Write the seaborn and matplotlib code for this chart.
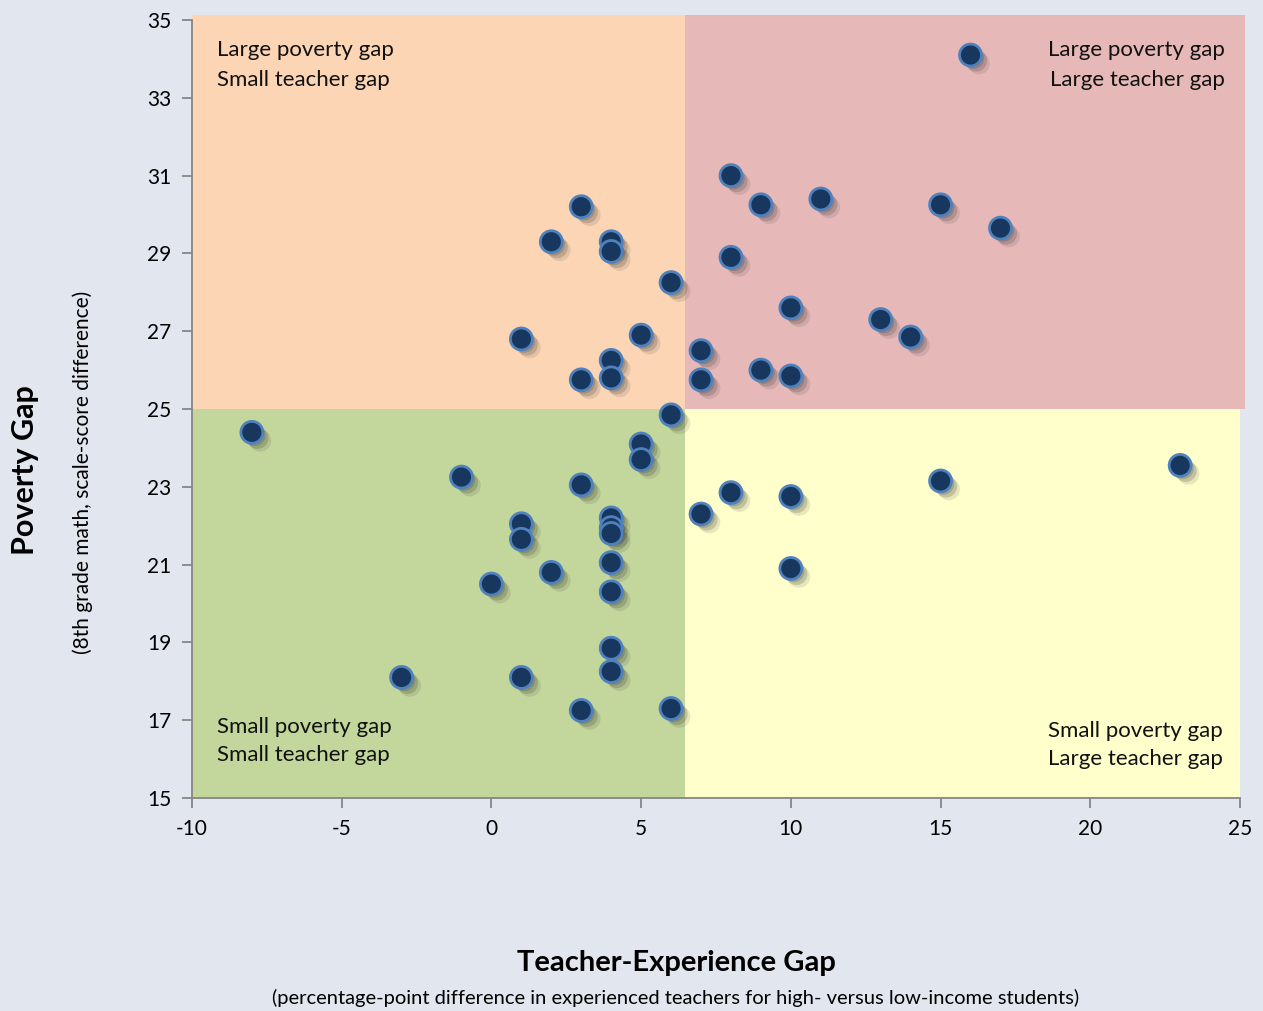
import matplotlib
matplotlib.use("Agg")
import matplotlib.pyplot as plt
import matplotlib.patheffects as pe
import seaborn as sns
import pandas as pd

# teacher-experience gap (x) and poverty gap (y), one point per state
teacher_gap = [16, 8, 3, 9, 11, 15, 17, 2, 4, 4, 8, 6, 10, 13, 14, 1, 5, 4, 7, 3, 4, 9, 7, 10, 6,
               -8, 5, 5, -1, 3, 23, 15, 8, 10, 7, 1, 1, 4, 4, 4, 4, 10, 2, 0, 4, 4, 4, -3, 1, 3, 6]
poverty_gap = [34.1, 31.0, 30.2, 30.25, 30.4, 30.25, 29.65, 29.3, 29.3, 29.05, 28.9, 28.25, 27.6,
               27.3, 26.85, 26.8, 26.9, 26.25, 26.5, 25.75, 25.8, 26.0, 25.75, 25.85, 24.85,
               24.4, 24.1, 23.7, 23.25, 23.05, 23.55, 23.15, 22.85, 22.75, 22.3, 22.05, 21.65,
               22.2, 21.95, 21.8, 21.05, 20.9, 20.8, 20.5, 20.3, 18.85, 18.25, 18.1, 18.1, 17.25, 17.3]

x_split = 6.45
y_split = 25
quadrant_colors = {"tl": "#FCD5B5", "tr": "#E6B9B8", "bl": "#C3D69B", "br": "#FFFFCC"}
bg = "#E1E6EF"

df = pd.DataFrame({"teacher": teacher_gap, "poverty": poverty_gap})

sns.set_style("white")
plt.rcParams["font.family"] = ["Lato", "DejaVu Sans"]
plt.rcParams["axes.unicode_minus"] = False
plt.rcParams["text.color"] = "black"

fig = plt.figure(figsize=(12.63, 10.11), dpi=100, facecolor=bg)
ax = fig.add_axes([0.152, 0.2107, 0.8298, 0.7695])
ax.set_facecolor(bg)
ax.set_xlim(-10, 25)
ax.set_ylim(15, 35)

# quadrant backgrounds
ax.fill_between([-10, x_split], y_split, 35.12, color=quadrant_colors["tl"], lw=0, clip_on=False, zorder=0)
ax.fill_between([x_split, 25.15], y_split, 35.12, color=quadrant_colors["tr"], lw=0, clip_on=False, zorder=0)
ax.fill_between([-10, x_split], 15, y_split, color=quadrant_colors["bl"], lw=0, zorder=0)
ax.fill_between([x_split, 25], 15, y_split, color=quadrant_colors["br"], lw=0, zorder=0)

sns.scatterplot(data=df, x="teacher", y="poverty", ax=ax, s=250, color="#17375E",
                edgecolor="#4F81BD", linewidth=2.0, zorder=3)
# soft drop shadow, built up from a few offset layers
ax.collections[-1].set_path_effects([
    pe.SimplePatchShadow(offset=(2, -2), shadow_rgbFace="#333333", alpha=0.2),
    pe.SimplePatchShadow(offset=(4, -4), shadow_rgbFace="#333333", alpha=0.2),
    pe.SimplePatchShadow(offset=(6, -6), shadow_rgbFace="#333333", alpha=0.12),
    pe.Normal()])

ax.set_xticks(range(-10, 26, 5))
ax.set_yticks(range(15, 36, 2))
for s in ["top", "right"]:
    ax.spines[s].set_visible(False)
for s in ["left", "bottom"]:
    ax.spines[s].set_color("#868686")
    ax.spines[s].set_linewidth(1.3)
ax.tick_params(axis="both", direction="out", length=7, width=1.3, color="#868686",
               labelsize=15, labelcolor="black", pad=8, left=True, bottom=True)
ax.set_xlabel("")
ax.set_ylabel("")

# quadrant labels
qfont = dict(fontsize=16, color="#111111", va="center", zorder=4)
ax.text(-9.17, 34.23, "Large poverty gap", ha="left", **qfont)
ax.text(-9.17, 33.46, "Small teacher gap", ha="left", **qfont)
ax.text(24.5, 34.23, "Large poverty gap", ha="right", **qfont)
ax.text(24.5, 33.46, "Large teacher gap", ha="right", **qfont)
ax.text(-9.17, 16.83, "Small poverty gap", ha="left", **qfont)
ax.text(-9.17, 16.1, "Small teacher gap", ha="left", **qfont)
ax.text(24.43, 16.72, "Small poverty gap", ha="right", **qfont)
ax.text(24.43, 16.0, "Large teacher gap", ha="right", **qfont)

# axis titles
fig.text(25 / 1263, 1 - 470 / 1011, "Poverty Gap", rotation=90, ha="center", va="center",
         fontsize=22, fontweight="bold", color="black")
fig.text(83 / 1263, 1 - 472 / 1011, "(8th grade math, scale-score difference)", rotation=90,
         ha="center", va="center", fontsize=15, color="black")
fig.text(676 / 1263, 1 - 963 / 1011, "Teacher-Experience Gap", ha="center", va="center",
         fontsize=21, fontweight="bold", color="black")
fig.text(676 / 1263, 1 - 998 / 1011,
         "(percentage-point difference in experienced teachers for high- versus low-income students)",
         ha="center", va="center", fontsize=14.5, color="black")

fig.savefig("out.png", dpi=100, facecolor=bg)
